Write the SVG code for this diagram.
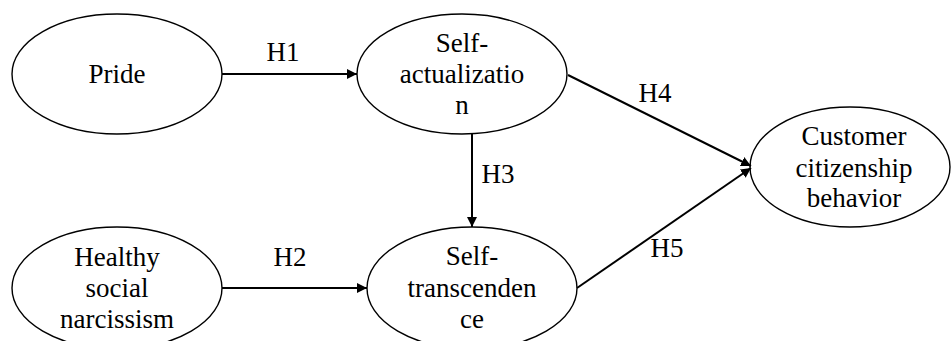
<svg xmlns="http://www.w3.org/2000/svg" width="952" height="341" viewBox="0 0 952 341">
<defs>
<style>
.node ellipse{fill:#fff;stroke:#000;stroke-width:1.4}
text{font-family:'Liberation Serif','DejaVu Serif',serif;font-size:27px;fill:#000;text-anchor:middle}
.edge{stroke:#000;stroke-width:2;fill:none}
</style>
<marker id="ah" viewBox="0 0 10 10" refX="10" refY="5" markerWidth="5" markerHeight="5" orient="auto" markerUnits="strokeWidth">
<path d="M0,0 L10,5 L0,10 z" fill="#000"/>
</marker>
</defs>
<rect width="952" height="341" fill="#fff"/>
<g id="pride" class="node">
<ellipse cx="117" cy="74" rx="105" ry="60"/>
<text x="117" y="83">Pride</text>
</g>
<g id="self-actualization" class="node">
<ellipse cx="462" cy="74" rx="105" ry="60"/>
<text x="462" y="52">Self-</text>
<text x="462" y="83">actualizatio</text>
<text x="462" y="114">n</text>
</g>
<g id="healthy-social-narcissism" class="node">
<ellipse cx="117" cy="288" rx="105" ry="61"/>
<text x="117" y="266">Healthy</text>
<text x="117" y="297">social</text>
<text x="117" y="328">narcissism</text>
</g>
<g id="self-transcendence" class="node">
<ellipse cx="472" cy="288" rx="105" ry="61"/>
<text x="472" y="265">Self-</text>
<text x="472" y="297">transcenden</text>
<text x="472" y="328">ce</text>
</g>
<g id="customer-citizenship-behavior" class="node">
<ellipse cx="850" cy="167" rx="100" ry="60"/>
<text x="854" y="145">Customer</text>
<text x="854" y="177">citizenship</text>
<text x="854" y="207">behavior</text>
</g>
<g id="connectors">
<line class="edge" x1="222" y1="74" x2="357" y2="74" marker-end="url(#ah)"/>
<line class="edge" x1="222" y1="288" x2="367" y2="288" marker-end="url(#ah)"/>
<line class="edge" x1="472" y1="134" x2="472" y2="227" marker-end="url(#ah)"/>
<line class="edge" x1="568" y1="75" x2="751" y2="166" marker-end="url(#ah)"/>
<line class="edge" x1="577" y1="288" x2="751" y2="168" marker-end="url(#ah)"/>
<text x="283" y="61">H1</text>
<text x="290" y="266">H2</text>
<text x="498" y="183">H3</text>
<text x="655" y="102">H4</text>
<text x="667" y="257">H5</text>
</g>
</svg>
